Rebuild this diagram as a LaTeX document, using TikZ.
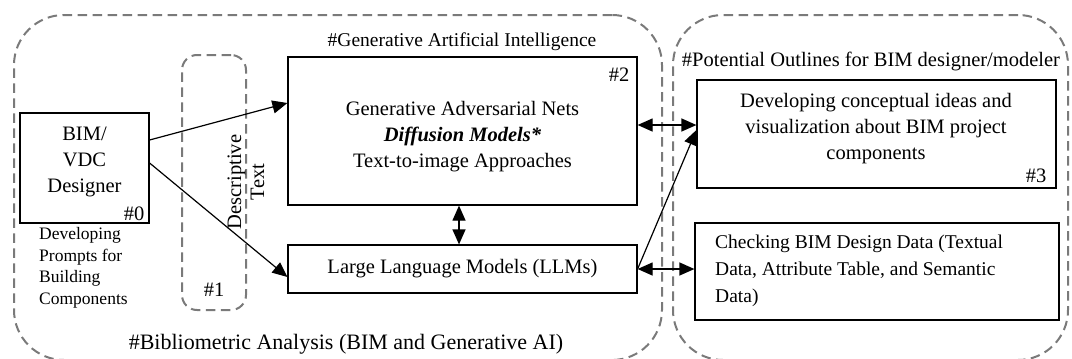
\documentclass[tikz,border=0pt]{standalone}
\usepackage{fontspec}
\setmainfont{Liberation Serif}
\usetikzlibrary{arrows.meta}
\definecolor{dgray}{RGB}{122,122,122}
\begin{document}
\begin{tikzpicture}[x=1pt,y=-1pt,
  grp/.style={draw=dgray, line width=2pt, dash pattern=on 9.5pt off 5.5pt, rounded corners=50pt, inner sep=0pt},
  box/.style={draw, line width=1.2pt, inner sep=0pt},
  txt/.style={font=\fontsize{20.5}{26}\selectfont, inner sep=0pt, align=center},
  small/.style={font=\fontsize{17.5}{21.5}\selectfont, inner sep=0pt, align=left},
  tipA/.tip={Triangle[length=15pt,width=13pt]},
  arr/.style={line width=1.2pt, -tipA},
  darr/.style={line width=1.2pt, tipA-tipA}]
\useasboundingbox (0,0) rectangle (1072,359);
% groups
\node[grp, minimum width=648pt, minimum height=345pt] (g1) at (338,187.5) {};
\node[grp, minimum width=395pt, minimum height=345pt] (g2) at (870.5,187.5) {};
\node[grp, rounded corners=15pt, minimum width=64pt, minimum height=255pt] (g3) at (214,182.5) {};
% boxes
\node[box, minimum width=129pt, minimum height=110pt] (bim) at (84.5,168) {};
\node[box, minimum width=349pt, minimum height=148pt] (gai) at (462.5,131) {};
\node[box, minimum width=349pt, minimum height=48pt] (llm) at (462.5,269) {};
\node[box, minimum width=359pt, minimum height=108pt] (b3) at (876.5,134) {};
\node[box, minimum width=364pt, minimum height=97pt] (b4) at (877,271.5) {};
% texts
\node[txt] (tbim) at (84.5,162) {BIM/\\VDC\\Designer};
\node[txt] (n0) at (134,214) {\#0};
\node[small, anchor=west] (tprompt) at (39,268) {Developing\\Prompts for\\Building\\Components};
\node[txt, rotate=90, font=\fontsize{20.5}{23}\selectfont] (tdesc) at (246,182) {Descriptive\\Text};
\node[txt] (n1) at (214,290) {\#1};
\node[txt] (tgai) at (462.5,137) {Generative Adversarial Nets\\\textbf{\textit{Diffusion Models*}}\\Text-to-image Approaches};
\node[txt] (n2) at (619,75) {\#2};
\node[txt, font=\fontsize{19.5}{26}\selectfont] (lgai) at (462,42) {\#Generative Artificial Intelligence};
\node[txt] (tllm) at (462.5,269) {Large Language Models (LLMs)};
\node[txt, font=\fontsize{22}{26}\selectfont] (lbib) at (346,344) {\#Bibliometric Analysis (BIM and Generative AI)};
\node[txt] (lpot) at (871,61) {\#Potential Outlines for BIM designer/modeler};
\node[txt] (tb3) at (876,129) {Developing conceptual ideas and\\visualization about BIM project\\components};
\node[txt] (n3) at (1036,176) {\#3};
\node[txt, align=left, anchor=west, font=\fontsize{19.5}{27}\selectfont] (tb4) at (715,271) {Checking BIM Design Data (Textual\\Data, Attribute Table, and Semantic\\Data)};
% connectors
\draw[arr] ([yshift=28pt]bim.east) -- ([yshift=28pt]gai.west);
\draw[arr] ([yshift=5pt]bim.east) -- ([yshift=-8pt]llm.west);
\draw[darr] ([xshift=-3.5pt]gai.south) -- ([xshift=-3.5pt]llm.north);
\draw[darr] ([yshift=6pt]gai.east) -- ([yshift=9pt]b3.west);
\draw[arr] (llm.east) -- ([yshift=4pt]b3.west);
\draw[darr] (llm.east) -- (llm.east -| b4.west);
\end{tikzpicture}
\end{document}
